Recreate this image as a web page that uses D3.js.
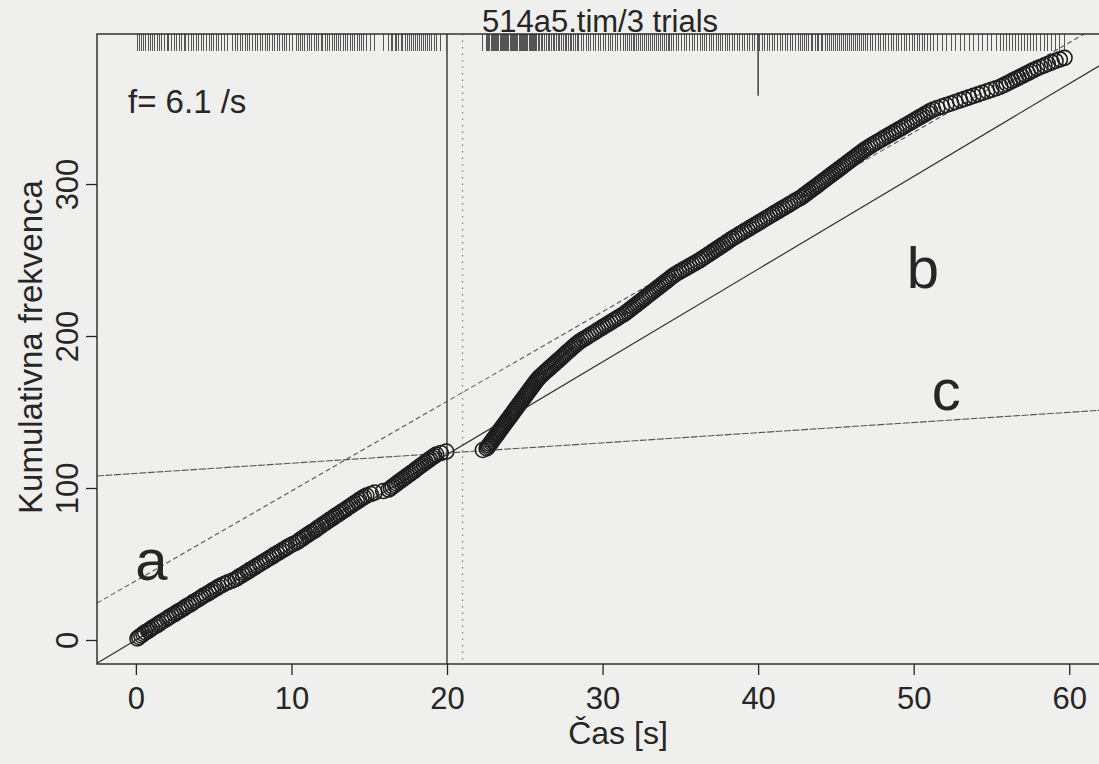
<!DOCTYPE html>
<html><head><meta charset="utf-8">
<script src="https://cdn.jsdelivr.net/npm/d3@7"></script>
<style>
body{margin:0;background:#efefed;}
svg{display:block;font-family:"Liberation Sans",Arial,Helvetica,sans-serif;}
</style>
</head><body>
<svg id="chart" width="1099" height="764"></svg>
<script>
// Spike times [s] (cumulative frequency = rank)
const spikeTimes = [
0.10,0.21,0.35,0.48,0.60,0.79,0.92,1.05,1.22,1.40,1.51,1.66,1.84,2.01,2.12,2.30,2.49,2.61,2.78,2.95,
3.10,3.22,3.41,3.58,3.70,3.88,4.05,4.19,4.33,4.52,4.70,4.84,4.99,5.17,5.31,5.50,5.70,5.92,6.18,
6.41,6.55,6.70,6.88,7.02,7.20,7.31,7.49,7.66,7.80,7.98,8.12,8.30,8.44,8.61,8.79,8.90,9.08,9.25,9.40,
9.58,9.71,9.90,10.08,10.30,
10.45,10.58,10.74,10.86,11.02,11.15,11.30,11.48,11.60,11.73,11.90,12.02,12.18,12.31,12.45,12.62,12.75,
12.88,13.05,13.18,13.33,13.49,13.61,13.78,13.92,14.05,14.22,14.36,14.50,14.66,14.82,
15.10,15.35,15.90,16.25,
16.40,16.51,16.66,16.78,16.90,17.05,17.17,17.31,17.44,17.58,17.70,17.85,17.97,18.10,18.24,18.36,18.50,
18.63,18.77,18.90,19.03,19.18,19.31,19.60,19.95,
22.30,
22.55,22.63,22.69,22.76,22.84,22.90,22.98,23.05,23.11,23.20,23.27,23.33,23.41,23.48,23.55,23.62,23.70,
23.76,23.84,23.91,23.98,24.06,24.12,24.20,24.27,24.34,24.42,24.48,24.56,24.63,24.70,24.78,24.84,24.92,
24.99,25.06,25.14,25.20,25.28,25.35,25.42,25.50,25.56,25.64,25.71,25.78,25.86,25.95,
26.06,26.17,26.28,26.38,26.50,26.60,26.71,26.83,26.93,27.04,27.15,27.26,27.37,27.47,27.59,27.69,27.80,
27.92,28.02,28.13,28.24,28.36,28.48,
28.62,28.78,28.95,29.10,29.25,29.42,29.57,29.72,29.89,30.04,30.20,30.36,30.51,30.67,30.83,30.98,31.14,31.32,
31.46,31.58,31.71,31.83,31.96,32.08,32.21,32.33,32.46,32.58,32.71,32.83,32.96,33.08,33.21,33.33,33.46,
33.58,33.71,33.83,33.96,34.08,34.21,34.33,34.46,34.58,
34.74,34.91,35.08,35.25,35.42,35.59,35.76,35.93,36.10,36.27,
36.42,36.57,36.71,36.86,37.01,37.15,37.30,37.45,37.59,37.74,37.89,38.03,38.18,38.33,38.48,
38.66,38.80,38.98,39.13,39.31,39.45,39.62,39.78,39.95,40.10,40.28,40.43,40.60,40.76,40.93,41.08,41.26,
41.41,41.58,41.74,41.91,42.06,42.24,42.39,42.57,42.75,
42.88,43.00,43.14,43.26,43.40,43.52,43.66,43.79,43.91,44.05,44.17,44.31,44.44,44.56,44.70,44.82,44.96,
45.09,45.21,45.35,45.47,45.61,45.74,45.86,46.00,46.12,46.26,46.39,46.51,46.65,46.77,46.91,47.06,
47.22,47.37,47.55,47.71,47.89,48.04,48.22,48.38,48.56,48.71,48.89,49.05,49.23,49.38,49.56,49.72,49.90,
50.05,50.23,50.39,50.57,50.72,50.90,51.06,51.26,
51.52,51.83,52.10,52.41,52.68,52.99,53.27,53.56,53.84,54.14,54.41,54.72,54.99,55.30,55.58,
55.78,55.97,56.17,56.35,56.56,56.74,56.94,57.13,57.33,57.51,57.70,
57.92,58.15,58.40,58.62,58.88,59.12,59.40,59.70
];

const xTicks = [0, 10, 20, 30, 40, 50, 60];
const yTicks = [0, 100, 200, 300];

// reference lines (abline): a = dashed, b = solid through origin, c = flat
const lineNames = ["a", "b", "c"];
const lineIntercepts = [39, 0, 109.6];
const lineSlopes = [5.9, 6.1, 0.67];
const lineDash = ["5,3", null, "7,1.5"];
const labelT = [1.0, 50.6, 52.1];
const labelN = [39.5, 231.6, 151];

// vertical markers [s]: full solid, full dotted, short solid
const vMarkTime = [20, 21, 40];
const vMarkTop = [null, null, 358];

const titleText = "514a5.tim/3 trials";
const xTitle = "Čas [s]";
const yTitle = "Kumulativna frekvenca";
const rateText = "f= 6.1 /s";

const svg = d3.select("#chart");
const x = d3.scaleLinear().domain([-2.5, 65]).range([97, 1147]);
const y = d3.scaleLinear().domain([-15.8, 398.7]).range([664, 34]);
const ink = "#262626";

svg.append("defs").append("clipPath").attr("id", "plotclip")
  .append("rect").attr("x", x.range()[0]).attr("y", y.range()[1])
  .attr("width", x.range()[1] - x.range()[0]).attr("height", y.range()[0] - y.range()[1]);

const plot = svg.append("g").attr("clip-path", "url(#plotclip)");

// vertical markers
vMarkTime.forEach((t, i) => {
  const l = plot.append("line")
    .attr("x1", x(t)).attr("x2", x(t))
    .attr("y1", y.range()[1])
    .attr("y2", vMarkTop[i] === null ? y.range()[0] : y(vMarkTop[i]))
    .attr("stroke", i === 1 ? "#8a8a8a" : ink)
    .attr("stroke-width", i === 1 ? 1.4 : 1.3);
  if (i === 1) l.attr("stroke-dasharray", "1.5,5");
});

// abline fits
lineNames.forEach((n, i) => {
  const t0 = x.domain()[0], t1 = x.domain()[1];
  const l = plot.append("line")
    .attr("x1", x(t0)).attr("y1", y(lineIntercepts[i] + lineSlopes[i] * t0))
    .attr("x2", x(t1)).attr("y2", y(lineIntercepts[i] + lineSlopes[i] * t1))
    .attr("stroke", i === 1 ? "#303030" : "#555")
    .attr("stroke-width", i === 1 ? 1.2 : 1.1);
  if (lineDash[i]) l.attr("stroke-dasharray", lineDash[i]);
});

// rug of spike times along the top
plot.append("g").attr("shape-rendering", "crispEdges")
  .selectAll("line").data(spikeTimes).join("line")
  .attr("x1", d => x(d)).attr("x2", d => x(d))
  .attr("y1", y.range()[1]).attr("y2", y.range()[1] + 17)
  .attr("stroke", "#555").attr("stroke-width", 1);

// cumulative points
plot.append("g").selectAll("circle").data(spikeTimes).join("circle")
  .attr("cx", d => x(d)).attr("cy", (d, i) => y(i + 1))
  .attr("r", 7.5).attr("fill", "none")
  .attr("stroke", "#1e1e1e").attr("stroke-width", 1.6);

// box
svg.append("rect")
  .attr("x", x.range()[0]).attr("y", y.range()[1])
  .attr("width", x.range()[1] - x.range()[0]).attr("height", y.range()[0] - y.range()[1])
  .attr("fill", "none").attr("stroke", ink).attr("stroke-width", 1.4);

// axes
const xAxis = svg.append("g").attr("transform", `translate(0,${y.range()[0]})`)
  .call(d3.axisBottom(x).tickValues(xTicks).tickSize(11).tickPadding(12).tickFormat(d3.format("d")));
xAxis.select(".domain").remove();
xAxis.selectAll("line").attr("stroke", ink).attr("stroke-width", 1.3);
xAxis.selectAll("text").attr("font-size", 31).attr("fill", ink).attr("font-family", null);

const yAxis = svg.append("g").attr("transform", `translate(${x.range()[0]},0)`)
  .call(d3.axisLeft(y).tickValues(yTicks).tickSize(11).tickFormat(d3.format("d")));
yAxis.select(".domain").remove();
yAxis.selectAll("line").attr("stroke", ink).attr("stroke-width", 1.3);
yAxis.selectAll("text")
  .attr("font-size", 31).attr("fill", ink).attr("font-family", null)
  .attr("transform", "rotate(-90)").attr("x", 0).attr("y", -19).attr("dy", 0)
  .attr("text-anchor", "middle");

// titles
svg.append("text").attr("x", 600).attr("y", 32).attr("text-anchor", "middle")
  .attr("font-size", 31).attr("fill", ink).text(titleText);
svg.append("text").attr("x", 618).attr("y", 744).attr("text-anchor", "middle")
  .attr("font-size", 32).attr("fill", ink).text(xTitle);
svg.append("text").attr("transform", "translate(42,347) rotate(-90)").attr("text-anchor", "middle")
  .attr("font-size", 33).attr("fill", ink).text(yTitle);
svg.append("text").attr("x", 128).attr("y", y(347)).attr("font-size", 33).attr("fill", ink).text(rateText);

// line labels
lineNames.forEach((n, i) => {
  svg.append("text").attr("x", x(labelT[i])).attr("y", y(labelN[i]))
    .attr("text-anchor", "middle").attr("font-size", 58).attr("fill", ink).text(n);
});
</script>
</body></html>
